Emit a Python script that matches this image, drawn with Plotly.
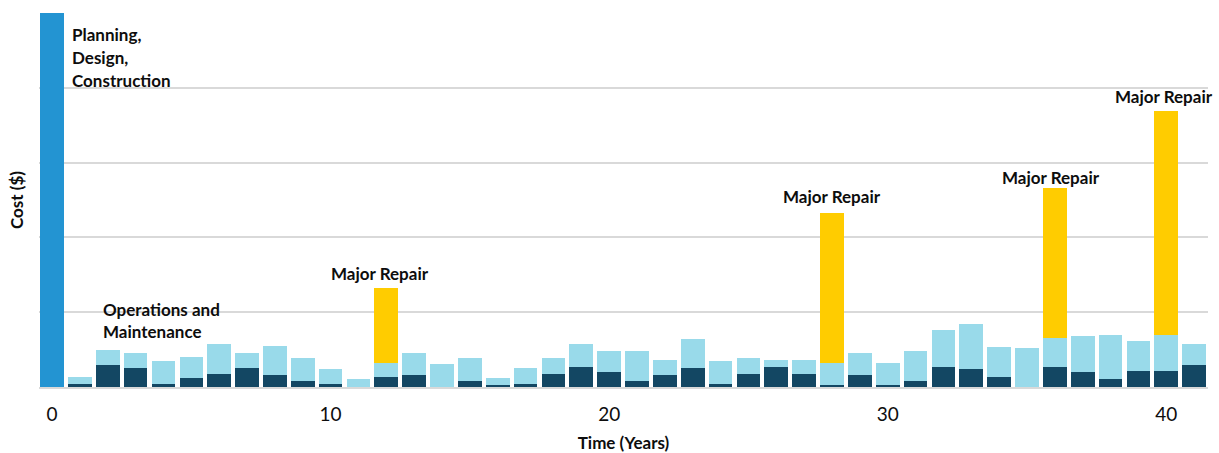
import plotly.graph_objects as go

# Life-cycle cost profile of an asset, one bar per year
years = list(range(42))

# Up-front planning, design and construction cost (year 0)
construction_years = [0]
construction_cost = [5.0]

# Operations and maintenance: base (dark) and variable (light) components, years 1-41
om_years = list(range(1, 42))
om_base = [0.04, 0.29, 0.25, 0.04, 0.12, 0.17, 0.25, 0.16, 0.08, 0.04,
           0.00, 0.13, 0.16, 0.00, 0.08, 0.03, 0.04, 0.17, 0.27, 0.20,
           0.08, 0.16, 0.25, 0.04, 0.17, 0.27, 0.17, 0.03, 0.16, 0.03,
           0.08, 0.27, 0.24, 0.13, 0.00, 0.27, 0.20, 0.11, 0.21, 0.21,
           0.29]
om_variable = [0.09, 0.20, 0.20, 0.31, 0.28, 0.40, 0.20, 0.39, 0.31, 0.20,
               0.11, 0.19, 0.29, 0.31, 0.31, 0.09, 0.21, 0.22, 0.31, 0.28,
               0.40, 0.20, 0.39, 0.31, 0.22, 0.09, 0.19, 0.29, 0.29, 0.29,
               0.40, 0.49, 0.60, 0.40, 0.52, 0.39, 0.48, 0.59, 0.40, 0.48,
               0.29]

# Major repair events
repair_years = [12, 28, 36, 40]
repair_cost = [1.0, 2.0, 2.0, 3.0]

x_ticks = [0, 10, 20, 30, 40]

FONT = "Lato"
C_BLUE = "#2394D2"
C_DARK = "#134763"
C_LIGHT = "#99DAEA"
C_YELLOW = "#FFCC00"
C_GRID = "#D9D9D9"
C_TEXT = "#0d0d0d"

fig = go.Figure()
fig.add_trace(go.Bar(x=construction_years, y=construction_cost,
                     name="Planning, Design, Construction",
                     marker=dict(color=C_BLUE, line=dict(width=0))))
fig.add_trace(go.Bar(x=om_years, y=om_base, name="O&M base",
                     marker=dict(color=C_DARK, line=dict(width=0))))
fig.add_trace(go.Bar(x=om_years, y=om_variable, name="O&M variable",
                     marker=dict(color=C_LIGHT, line=dict(width=0))))
fig.add_trace(go.Bar(x=repair_years, y=repair_cost, name="Major Repair",
                     marker=dict(color=C_YELLOW, line=dict(width=0))))

ann_font = dict(family=FONT, size=17, color=C_TEXT)
annotations = []

# "Major Repair" labels sit just above each stacked bar (small per-label nudges)
label_dx = [-6, 0, -4, -2]
label_dy = [2, 4, -2, 2]
for yr, cost, dx, dy in zip(repair_years, repair_cost, label_dx, label_dy):
    i = om_years.index(yr)
    top = om_base[i] + om_variable[i] + cost
    annotations.append(dict(x=yr, y=top, xref="x", yref="y", text="<b>Major Repair</b>",
                            showarrow=False, xanchor="center", yanchor="bottom",
                            xshift=dx, yshift=dy, font=ann_font))

# Multi-line phase labels, one annotation per line for tighter control of spacing
def add_lines(lines, x_year, y_first, step):
    for k, line in enumerate(lines):
        annotations.append(dict(x=x_year, y=y_first - k * step, xref="x", yref="y",
                                text=f"<b>{line}</b>", showarrow=False,
                                xanchor="left", yanchor="middle", font=ann_font))

add_lines(["Planning,", "Design,", "Construction"], 0.63, 4.71, 0.303)
add_lines(["Operations and", "Maintenance"], 1.77, 1.04, 0.294)

fig.update_layout(
    width=1219, height=453,
    margin=dict(l=39, r=11, t=13, b=66),
    barmode="stack", bargap=0.15,
    plot_bgcolor="white", paper_bgcolor="white",
    showlegend=False,
    font=dict(family=FONT, color=C_TEXT),
    annotations=annotations,
    xaxis=dict(range=[-0.47, 41.5], tickvals=x_ticks, ticktext=[str(t) for t in x_ticks],
               automargin=False,
               showgrid=False, zeroline=False, showline=True, linecolor=C_GRID, linewidth=2,
               ticks="", tickfont=dict(family=FONT, size=19, color=C_TEXT),
               ticklabelstandoff=9,
               title=dict(text="<b>Time (Years)</b>", font=dict(family=FONT, size=17),
                          standoff=14)),
    yaxis=dict(range=[0, 5], dtick=1, showgrid=True, gridcolor=C_GRID, gridwidth=1.5,
               automargin=False,
               zeroline=False, showticklabels=False, ticks="",
               title=dict(text="<b>Cost ($)</b>", font=dict(family=FONT, size=17),
                          standoff=10)),
)

fig.write_html("out.html")
